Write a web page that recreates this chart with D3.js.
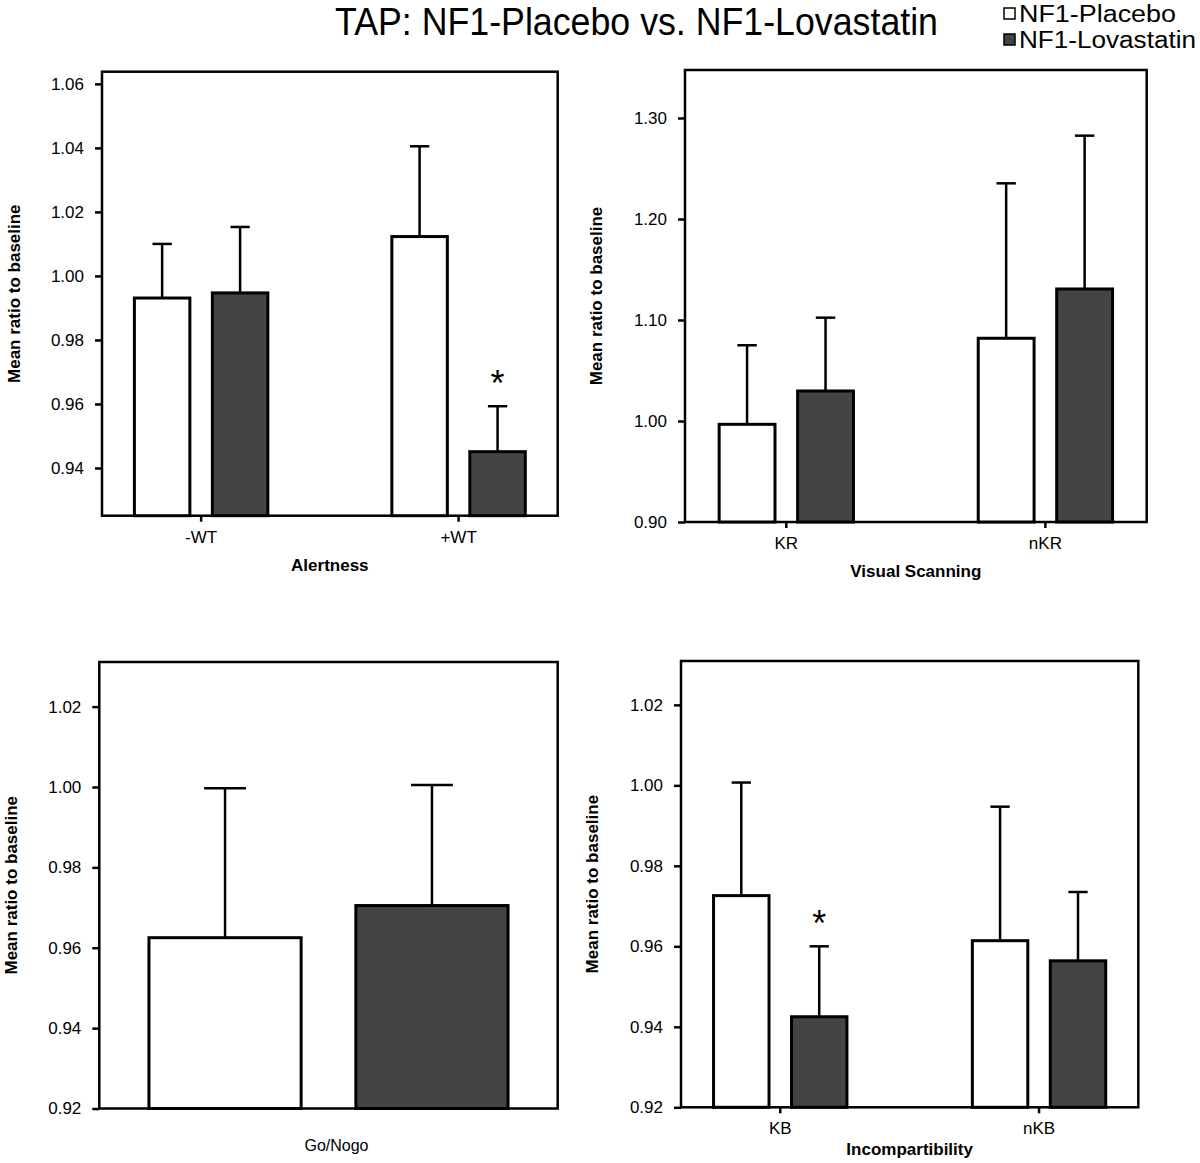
<!DOCTYPE html>
<html>
<head>
<meta charset="utf-8">
<script src="https://cdn.jsdelivr.net/npm/d3@7"></script>
<style>
  html, body { margin: 0; padding: 0; background: #fff; }
  svg { display: block; font-family: "Liberation Sans", Arial, Helvetica, sans-serif; }
</style>
</head>
<body>
<svg id="chart" width="1200" height="1163"></svg>
<script>
// ---------------- data ----------------
const seriesNames = ["NF1-Placebo", "NF1-Lovastatin"];
const seriesFill = ["#ffffff", "#444444"];

const alertCats = ["-WT", "+WT"];
const alertPlacebo = [0.9931, 1.0123];
const alertPlaceboSE = [0.0169, 0.0282];
const alertLova = [0.9947, 0.9451];
const alertLovaSE = [0.0206, 0.0142];
const alertSig = [[false, false], [false, true]];
const alertTicks = [0.94, 0.96, 0.98, 1.00, 1.02, 1.04, 1.06];

const visualCats = ["KR", "nKR"];
const visualPlacebo = [0.9967, 1.0819];
const visualPlaceboSE = [0.0783, 0.1534];
const visualLova = [1.0297, 1.1307];
const visualLovaSE = [0.0726, 0.1518];
const visualSig = [[false, false], [false, false]];
const visualTicks = [0.90, 1.00, 1.10, 1.20, 1.30];

const gonogoCats = ["Go/Nogo"];
const gonogoPlacebo = [0.9625];
const gonogoPlaceboSE = [0.0372];
const gonogoLova = [0.9705];
const gonogoLovaSE = [0.0300];
const gonogoSig = [[false, false]];
const gonogoTicks = [0.92, 0.94, 0.96, 0.98, 1.00, 1.02];

const incompCats = ["KB", "nKB"];
const incompPlacebo = [0.9726, 0.9614];
const incompPlaceboSE = [0.0281, 0.0333];
const incompLova = [0.9425, 0.9564];
const incompLovaSE = [0.0175, 0.0171];
const incompSig = [[false, true], [false, false]];
const incompTicks = [0.92, 0.94, 0.96, 0.98, 1.00, 1.02];

const titleText = "TAP: NF1-Placebo vs. NF1-Lovastatin";
const yLabelText = "Mean ratio to baseline";

// ---------------- layout ----------------
const panels = [
  { cats: alertCats, means: [alertPlacebo, alertLova], se: [alertPlaceboSE, alertLovaSE], sig: alertSig,
    ticks: alertTicks, domain: [0.9251, 1.0638], fmt: ".2f",
    box: { l: 102, t: 71.7, r: 557.7, b: 515.7 }, pIn: 0.47, pOut: 0.12, cap: 0.33,
    xTicks: true, xlabel: "Alertness", xlabelBold: true, xlabelGap: 55, ylabX: 20 },
  { cats: visualCats, means: [visualPlacebo, visualLova], se: [visualPlaceboSE, visualLovaSE], sig: visualSig,
    ticks: visualTicks, domain: [0.90, 1.3475], fmt: ".2f",
    box: { l: 685, t: 70, r: 1146.7, b: 522 }, pIn: 0.47, pOut: 0.126, cap: 0.33,
    xTicks: true, xlabel: "Visual Scanning", xlabelBold: true, xlabelGap: 55, ylabX: 602 },
  { cats: gonogoCats, means: [gonogoPlacebo, gonogoLova], se: [gonogoPlaceboSE, gonogoLovaSE], sig: gonogoSig,
    ticks: gonogoTicks, domain: [0.92, 1.0311], fmt: ".2f",
    box: { l: 99.3, t: 662, r: 557.7, b: 1108.5 }, pIn: 0, pOut: 0.133, cap: 0.27,
    xTicks: false, xlabel: "Go/Nogo", xlabelBold: false, xlabelGap: 42, xlabelShift: 8, ylabX: 17 },
  { cats: incompCats, means: [incompPlacebo, incompLova], se: [incompPlaceboSE, incompLovaSE], sig: incompSig,
    ticks: incompTicks, domain: [0.92, 1.0309], fmt: ".2f",
    box: { l: 681, t: 661, r: 1138.3, b: 1107.3 }, pIn: 0.473, pOut: 0.12, cap: 0.33,
    xTicks: true, xlabel: "Incompartibility", xlabelBold: true, xlabelGap: 48, ylabX: 598 }
];

const svg = d3.select("#chart");

// title
svg.append("text")
  .attr("x", 335).attr("y", 35)
  .attr("font-size", 38)
  .attr("textLength", 603).attr("lengthAdjust", "spacingAndGlyphs")
  .attr("fill", "#000")
  .text(titleText);

// legend
const legendWidths = [157, 177];
const legend = svg.append("g").attr("transform", "translate(1003,0)");
seriesNames.forEach((name, i) => {
  const gy = i * 26;
  legend.append("rect")
    .attr("x", 1).attr("y", 8 + gy).attr("width", 11).attr("height", 11)
    .attr("fill", seriesFill[i]).attr("stroke", "#000").attr("stroke-width", 1.5);
  legend.append("text")
    .attr("x", 16).attr("y", 22 + gy)
    .attr("font-size", 23)
    .attr("textLength", legendWidths[i]).attr("lengthAdjust", "spacingAndGlyphs")
    .attr("fill", "#000")
    .text(name);
});

panels.forEach(p => {
  const { l, t, r, b } = p.box;
  const g = svg.append("g");

  const y = d3.scaleLinear().domain(p.domain).range([b, t]);
  const x0 = d3.scaleBand().domain(p.cats).range([l, r]).paddingInner(p.pIn).paddingOuter(p.pOut);
  const x1 = d3.scaleBand().domain(d3.range(seriesNames.length)).range([0, x0.bandwidth()])
    .paddingInner(0.25).paddingOuter(0);

  // frame
  g.append("rect")
    .attr("x", l).attr("y", t).attr("width", r - l).attr("height", b - t)
    .attr("fill", "none").attr("stroke", "#000").attr("stroke-width", 2.5);

  // y axis
  const yAxis = g.append("g")
    .attr("transform", `translate(${l},0)`)
    .call(d3.axisLeft(y).tickValues(p.ticks).tickFormat(d3.format(p.fmt))
      .tickSize(7).tickSizeOuter(0).tickPadding(11));
  yAxis.select(".domain").remove();
  yAxis.selectAll(".tick line").attr("stroke", "#000").attr("stroke-width", 2.5);
  yAxis.selectAll(".tick text").attr("font-size", 17).attr("fill", "#000")
    .attr("font-family", "'Liberation Sans', Arial, sans-serif");

  // x axis
  if (p.xTicks) {
    const xAxis = g.append("g")
      .attr("transform", `translate(0,${b})`)
      .call(d3.axisBottom(x0).tickSize(6).tickSizeOuter(0).tickPadding(9));
    xAxis.select(".domain").remove();
    xAxis.selectAll(".tick line").attr("stroke", "#000").attr("stroke-width", 2.5);
    xAxis.selectAll(".tick text").attr("font-size", 17).attr("fill", "#000")
      .attr("font-family", "'Liberation Sans', Arial, sans-serif");
  }

  // x label
  g.append("text")
    .attr("x", (l + r) / 2 + (p.xlabelShift || 0))
    .attr("y", b + p.xlabelGap)
    .attr("text-anchor", "middle")
    .attr("font-size", p.xlabelBold ? 17 : 16)
    .attr("font-weight", p.xlabelBold ? "bold" : "normal")
    .attr("fill", "#000")
    .text(p.xlabel);

  // y label
  g.append("text")
    .attr("transform", `translate(${p.ylabX},${(t + b) / 2}) rotate(-90)`)
    .attr("text-anchor", "middle")
    .attr("font-size", 17)
    .attr("font-weight", "bold")
    .attr("fill", "#000")
    .text(yLabelText);

  // bars
  const bw = x1.bandwidth();
  const capW = bw * p.cap;
  p.cats.forEach((c, ci) => {
    seriesNames.forEach((s, si) => {
      const m = p.means[si][ci];
      const e = p.se[si][ci];
      const xb = x0(c) + x1(si);
      const cx = xb + bw / 2;
      // error bar (upper only)
      g.append("line")
        .attr("x1", cx).attr("x2", cx)
        .attr("y1", y(m)).attr("y2", y(m + e))
        .attr("stroke", "#000").attr("stroke-width", 2.5);
      g.append("line")
        .attr("x1", cx - capW / 2).attr("x2", cx + capW / 2)
        .attr("y1", y(m + e)).attr("y2", y(m + e))
        .attr("stroke", "#000").attr("stroke-width", 2.5);
      // bar
      g.append("rect")
        .attr("x", xb + 1.5).attr("width", bw - 3)
        .attr("y", y(m)).attr("height", y(p.domain[0]) - y(m))
        .attr("fill", seriesFill[si]).attr("stroke", "#000").attr("stroke-width", 3);
      // significance star
      if (p.sig[ci][si]) {
        g.append("text")
          .attr("x", cx).attr("y", y(m + e) - 10)
          .attr("text-anchor", "middle")
          .attr("font-size", 36)
          .attr("fill", "#000")
          .text("*");
      }
    });
  });
});
</script>
</body>
</html>
